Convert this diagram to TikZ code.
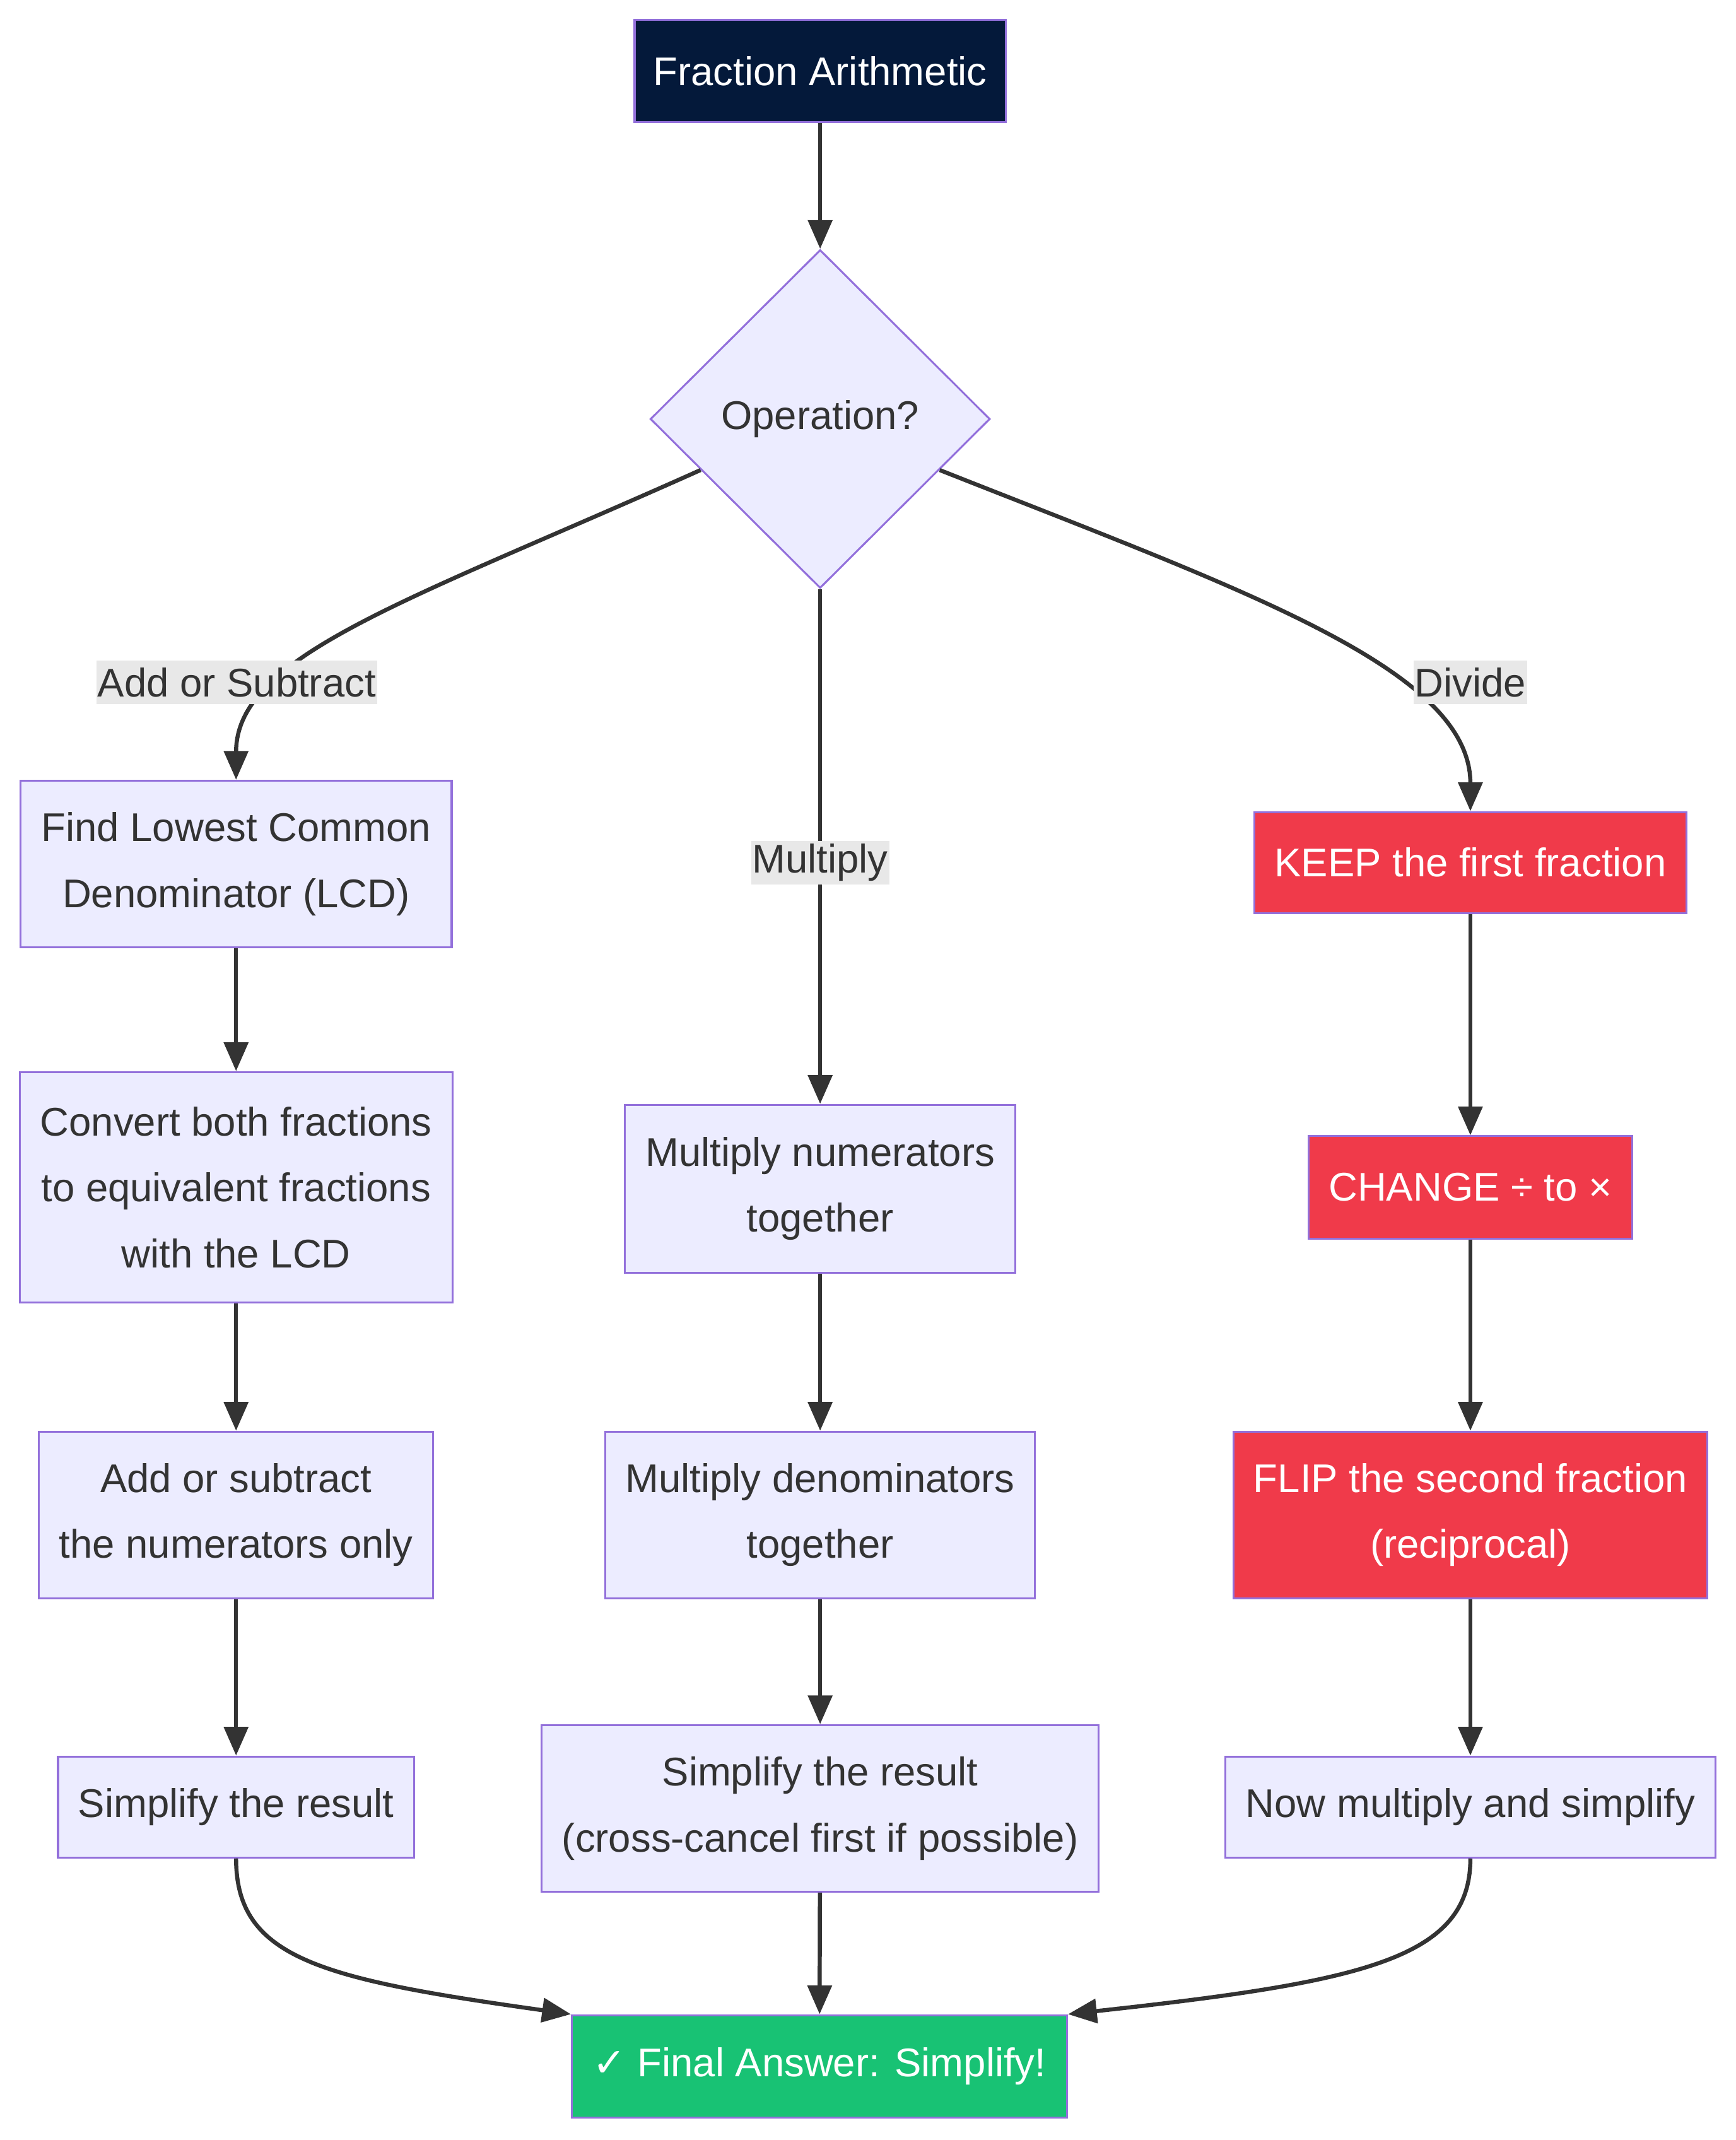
\documentclass[tikz,border=0pt]{standalone}
\usepackage{fontspec}
\setmainfont{Liberation Sans}
\newfontfamily\symfont{DejaVu Sans}
\usetikzlibrary{arrows.meta,shapes.geometric,calc}
\definecolor{lila}{HTML}{9370DB}
\definecolor{boxfill}{HTML}{ECECFF}
\definecolor{txt}{HTML}{333333}
\definecolor{navy}{HTML}{04193A}
\definecolor{rot}{HTML}{F03A4A}
\definecolor{gruen}{HTML}{18C274}
\definecolor{lblgrau}{HTML}{E8E8E8}
\tikzset{
  box/.style={draw=lila,fill=boxfill,line width=0.8pt,text=txt,align=center,
    inner sep=0pt,font=\fontsize{16.7}{27.5}\selectfont},
  startbox/.style={box,fill=navy,text=white},
  keepbox/.style={box,fill=rot,text=white},
  donebox/.style={box,fill=gruen,text=white},
  frage/.style={box,diamond,aspect=1,minimum width=4.98cm,minimum height=4.96cm},
  pfeil/.style={-{Triangle[length=12pt,width=10pt]},txt,line width=1.7pt},
  lbl/.style={fill=lblgrau,text=txt,inner xsep=0.5pt,inner ysep=0pt,
    minimum height=0.64cm,font=\fontsize{16.7}{20}\selectfont},
}

\begin{document}
\begin{tikzpicture}[x=0.02cm,y=-0.02cm]
  \useasboundingbox (0,0) rectangle (1272,1568);
  % Start und Verzweigung
  \node[startbox,minimum width=5.44cm,minimum height=1.50cm] (start) at (601,52) {Fraction Arithmetic};
  \node[frage] (op) at (601,307) {Operation?};
  % linke Spalte: addieren / subtrahieren
  \node[box,minimum width=6.32cm,minimum height=2.44cm] (lcd) at (173,633) {Find Lowest Common\\Denominator (LCD)};
  \node[box,minimum width=6.34cm,minimum height=3.38cm] (conv) at (173,870) {Convert both fractions\\to equivalent fractions\\with the LCD};
  \node[box,minimum width=5.78cm,minimum height=2.44cm] (addnum) at (173,1110) {Add or subtract\\the numerators only};
  \node[box,minimum width=5.22cm,minimum height=1.48cm] (simpA) at (173,1324) {Simplify the result};
  % mittlere Spalte: multiplizieren
  \node[box,minimum width=5.72cm,minimum height=2.46cm] (mulnum) at (601,871) {Multiply numerators\\together};
  \node[box,minimum width=6.30cm,minimum height=2.44cm] (mulden) at (601,1110) {Multiply denominators\\together};
  \node[box,minimum width=8.16cm,minimum height=2.44cm] (simpM) at (601,1325) {Simplify the result\\(cross-cancel first if possible)};
  % rechte Spalte: dividieren
  \node[keepbox,minimum width=6.34cm,minimum height=1.48cm] (keep) at (1077.5,632) {KEEP the first fraction};
  \node[keepbox,minimum width=4.74cm,minimum height=1.50cm] (change) at (1077.5,870) {CHANGE ÷ to ×};
  \node[keepbox,minimum width=6.94cm,minimum height=2.44cm] (flip) at (1077.5,1110) {FLIP the second fraction\\(reciprocal)};
  \node[box,minimum width=7.18cm,minimum height=1.48cm] (simpD) at (1077.5,1324) {Now multiply and simplify};
  % Ergebnis
  \node[donebox,minimum width=7.26cm,minimum height=1.50cm] (final) at (600.5,1514) {{\symfont ✓} Final Answer: Simplify!};

  \draw[pfeil] (start) -- (op);
  \draw[pfeil] ($(op.west)!0.3!(op.south)$) .. controls (300,440) and (173,480) .. (lcd.north);
  \draw[pfeil] (op.south) -- (mulnum.north);
  \draw[pfeil] ($(op.east)!0.3!(op.south)$) .. controls (910,432) and (1077.5,490) .. (keep.north);
  \draw[pfeil] (lcd) -- (conv);
  \draw[pfeil] (conv) -- (addnum);
  \draw[pfeil] (addnum) -- (simpA);
  \draw[pfeil] (mulnum) -- (mulden);
  \draw[pfeil] (mulden) -- (simpM);
  \draw[pfeil] (keep) -- (change);
  \draw[pfeil] (change) -- (flip);
  \draw[pfeil] (flip) -- (simpD);
  \draw[pfeil] (simpA.south) .. controls (173,1435) and (235,1450) .. (final.north west);
  \draw[pfeil] (simpM) -- (final);
  \draw[pfeil] (simpD.south) .. controls (1077.5,1435) and (1000,1452) .. (final.north east);

  % Kantenbeschriftungen
  \node[lbl] (lAdd) at (173.5,500) {Add or Subtract};
  \node[lbl] (lMul) at (601,632) {Multiply};
  \node[lbl] (lDiv) at (1077.5,500) {Divide};
\end{tikzpicture}
\end{document}
